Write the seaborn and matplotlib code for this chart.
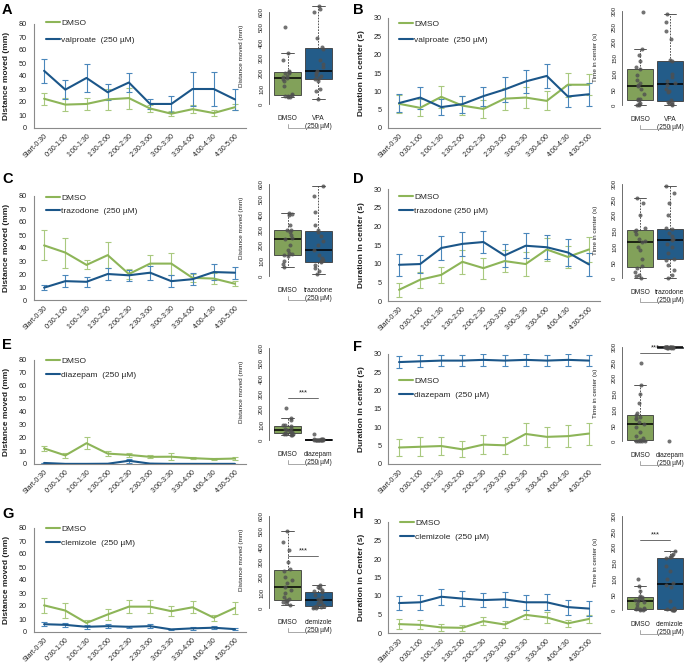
import numpy as np
import pandas as pd
import matplotlib
matplotlib.use("Agg")
import matplotlib.pyplot as plt
import matplotlib.transforms as mtransforms
from matplotlib.lines import Line2D
import seaborn as sns

sns.set_theme(style="white")
plt.rcParams['font.family'] = ['Liberation Sans', 'DejaVu Sans']

np.random.seed(3)

time_bins = ["Start-0:30", "0:30-1:00", "1:00-1:30", "1:30-2:00", "2:00-2:30",
             "2:30-3:00", "3:00-3:30", "3:30-4:00", "4:00-4:30", "4:30-5:00"]

# ---- Panel A (distance, valproate)
a_dmso_mean = [22.5, 18, 18.5, 22, 23, 15, 11, 14.5, 11.5, 16]
a_dmso_err = [4.5, 5, 4.5, 8, 8, 3, 2, 3, 2, 2.5]
a_drug_mean = [44, 29.5, 38.5, 27.5, 35, 18.5, 18.5, 30, 30, 22]
a_drug_err = [9, 7.5, 10.5, 6, 7, 4, 6, 13, 13, 8]
a_box_dmso = [45, 48, 50, 55, 58, 62, 120, 150, 160, 170, 175, 185, 200, 205, 210, 215, 285, 330, 500]
a_box_drug = [35, 85, 95, 150, 162, 170, 185, 190, 200, 215, 240, 260, 290, 360, 370, 430, 600, 620, 640]

# ---- Panel B (center, valproate)
b_dmso_mean = [6.6, 5.5, 8.5, 6.1, 5.2, 8.0, 8.3, 7.4, 11.8, 11.8]
b_dmso_err = [2.4, 2.3, 3.0, 2.5, 2.5, 3.0, 2.8, 2.6, 3.3, 2.8]
b_drug_mean = [6.8, 8.3, 5.7, 6.5, 8.7, 10.5, 12.7, 14.2, 8.6, 9.2]
b_drug_err = [2.4, 3.0, 2.2, 2.3, 2.6, 3.3, 3.2, 3.3, 3.0, 3.2]
b_box_dmso = [0, 0, 2, 5, 16, 18, 20, 35, 50, 60, 64, 70, 80, 95, 115, 120, 140, 160, 180, 297]
b_box_drug = [0, 3, 5, 10, 11, 15, 40, 45, 50, 65, 70, 75, 90, 100, 140, 145, 210, 235, 265, 289]

# ---- Panel C (distance, trazodone)
c_dmso_mean = [42, 36.5, 27, 34.5, 20, 28, 28, 17, 16.5, 12.5]
c_dmso_err = [11.5, 11.5, 3.5, 10, 3.5, 7, 8.5, 3, 4, 2]
c_drug_mean = [9.5, 14.5, 14, 20, 19, 21, 14.5, 16, 21.5, 21]
c_drug_err = [2, 4.5, 4, 4.5, 4, 5.5, 4.5, 4.5, 6, 4.5]
c_box_dmso = [60, 80, 100, 130, 138, 142, 150, 170, 200, 240, 250, 270, 290, 298, 302, 330, 395, 405, 410]
c_box_drug = [15, 30, 50, 70, 90, 96, 105, 120, 140, 170, 200, 230, 260, 290, 300, 330, 420, 520, 585]

# ---- Panel D (center, trazodone)
d_dmso_mean = [3.0, 5.7, 7.0, 10.5, 8.8, 10.7, 9.9, 13.8, 11.8, 13.8]
d_dmso_err = [1.8, 2.2, 2.2, 3.2, 2.8, 3.0, 3.1, 3.2, 3.0, 3.3]
d_drug_mean = [9.7, 9.9, 14.2, 15.3, 15.8, 12.2, 14.8, 14.4, 13.0, 9.8]
d_drug_err = [3.0, 2.5, 3.2, 3.2, 2.9, 3.2, 3.4, 3.2, 3.5, 3.0]
d_box_dmso = [0, 5, 10, 20, 32, 38, 60, 90, 100, 115, 118, 125, 140, 150, 154, 160, 200, 240, 255]
d_box_drug = [0, 10, 25, 40, 58, 62, 80, 100, 110, 120, 125, 135, 145, 155, 159, 200, 240, 270, 293]

# ---- Panel E (distance, diazepam)
e_dmso_mean = [12, 6.6, 16, 8, 7, 5.5, 5.6, 4.5, 3.8, 4.2]
e_dmso_err = [2.2, 2, 4.5, 2, 1.5, 1.2, 2.5, 1, 1, 1]
e_drug_mean = [0.8, 0.1, 0.1, 0.2, 2.5, 0.3, 0.1, 0.1, 0.1, 0.1]
e_drug_err = [0.3, 0.1, 0.1, 0.1, 1.5, 0.2, 0.1, 0.1, 0.1, 0.1]
e_box_dmso = [30, 35, 38, 40, 42, 45, 50, 55, 60, 64, 70, 80, 90, 95, 100, 130, 143, 211]
e_box_drug = [0, 0, 0, 0, 1, 1, 1, 2, 2, 3, 3, 4, 5, 6, 8, 38]

# ---- Panel F (center, diazepam)
f_dmso_mean = [4.5, 4.7, 4.9, 4.0, 5.3, 5.1, 8.2, 7.4, 7.6, 8.3]
f_dmso_err = [2.3, 2.6, 2.4, 2.2, 2.5, 2.4, 3.0, 2.8, 3.0, 3.0]
f_drug_mean = [27.8, 28.0, 28.2, 28.2, 28.4, 28.2, 28.4, 28.2, 28.4, 28.2]
f_drug_err = [1.6, 1.6, 1.6, 1.6, 1.6, 1.6, 1.6, 1.6, 1.6, 1.6]
f_box_dmso = [0, 0, 0, 0, 0, 2, 8, 15, 30, 45, 55, 60, 70, 75, 78, 82, 90, 120, 150, 180, 250]
f_box_drug = [0, 296, 297, 298, 298, 299, 299, 300, 300, 300, 300, 300, 300, 300, 300, 300]

# ---- Panel G (distance, clemizole)
g_dmso_mean = [20.5, 16.5, 7, 13.5, 19.5, 19.5, 16, 19, 11, 18.5]
g_dmso_err = [5.5, 5.5, 2.5, 4.2, 5, 5, 4, 4.7, 2.3, 4.5]
g_drug_mean = [6, 5.5, 4, 4.5, 4, 4.5, 2, 2.8, 3.3, 2.2]
g_drug_err = [1.5, 1.5, 1.5, 1.5, 1, 1.3, 0.5, 1, 1, 0.8]
g_box_dmso = [20, 30, 40, 45, 50, 56, 70, 95, 120, 140, 160, 180, 200, 240, 254, 300, 380, 430, 500]
g_box_drug = [0, 2, 5, 8, 12, 14, 20, 30, 40, 53, 60, 70, 85, 105, 109, 120, 130, 140, 150]

# ---- Panel H (center, clemizole)
h_dmso_mean = [2.4, 2.2, 1.5, 1.4, 3.2, 2.3, 4.9, 4.2, 2.6, 3.8]
h_dmso_err = [1.3, 1.2, 0.9, 0.8, 1.0, 0.9, 1.2, 1.4, 1.0, 1.2]
h_drug_mean = [8.1, 8.3, 9.8, 9.3, 8.9, 9.1, 8.3, 8.3, 7.0, 6.6]
h_drug_err = [2.0, 2.0, 2.2, 2.1, 2.0, 2.0, 2.0, 2.2, 2.0, 2.0]
h_box_dmso = [0, 1, 2, 3, 4, 5, 10, 18, 26, 30, 32, 35, 38, 42, 45, 60, 78, 100]
h_box_drug = [0, 0, 1, 1, 2, 3, 5, 30, 75, 80, 86, 100, 125, 140, 165, 168, 170, 175, 180, 187]

GREEN = '#8db558'
BLUE = '#1b5689'
GREEN_E = '#a9c97f'
BLUE_E = '#4a87bb'
BOX_G = '#83ad4e'
BOX_B = '#125e9a'
AX_COL = '#8a8a8a'
TXT = '#222222'

W, H = 688, 666
fig = plt.figure(figsize=(W / 100, H / 100), dpi=100)


def add_ax(x0, y0, x1, y1):
    return fig.add_axes([x0 / W, 1 - y1 / H, (x1 - x0) / W, (y1 - y0) / H])


def line_panel(ax, dm, de, tm, te, drug_label, ylabel, ymax, ystep, leg):
    x = np.arange(len(time_bins))
    df = pd.DataFrame({'bin': np.concatenate([x, x]),
                       'value': list(dm) + list(tm),
                       'group': ['DMSO'] * len(dm) + [drug_label] * len(tm)})
    ax.errorbar(x, dm, yerr=de, fmt='none', ecolor=GREEN_E, elinewidth=0.8,
                capsize=2.2, capthick=0.8, zorder=1)
    ax.errorbar(x, tm, yerr=te, fmt='none', ecolor=BLUE_E, elinewidth=0.8,
                capsize=2.2, capthick=0.8, zorder=1)
    sns.lineplot(data=df, x='bin', y='value', hue='group', palette=[GREEN, BLUE],
                 linewidth=1.5, ax=ax, legend=False, sort=False, zorder=3)
    ax.set_xlim(-0.5, len(time_bins) - 0.5)
    ax.set_ylim(0, ymax)
    ax.set_yticks(np.arange(0, ymax + 0.1, ystep))
    ax.set_xticks(x)
    ax.set_xticklabels(time_bins, rotation=45, ha='right', rotation_mode='anchor',
                       fontsize=5, color=TXT)
    ax.set_xticks(np.arange(-0.5, len(time_bins)), minor=True)
    ax.tick_params(axis='x', which='major', length=0, pad=3)
    ax.tick_params(axis='x', which='minor', length=3, color=AX_COL, width=0.7)
    ax.tick_params(axis='y', length=3, color=AX_COL, width=0.7, labelsize=5.2,
                   labelcolor=TXT, pad=2)
    for s in ['top', 'right']:
        ax.spines[s].set_visible(False)
    for s in ['left', 'bottom']:
        ax.spines[s].set_color(AX_COL)
        ax.spines[s].set_linewidth(0.8)
    ax.set_xlabel('')
    ax.set_ylabel(ylabel, fontsize=6, fontweight='bold', color=TXT)
    ax.yaxis.set_label_coords(-0.111, 0.5)
    hx, hy, ls = leg
    handles = [Line2D([], [], color=GREEN, lw=1.5), Line2D([], [], color=BLUE, lw=1.5)]
    ax.legend(handles, ['DMSO', drug_label], loc='upper left', frameon=False,
              fontsize=6, handlelength=1.7, handletextpad=0.15, labelspacing=ls,
              borderpad=0, borderaxespad=0,
              bbox_to_anchor=(hx / 100, (H - hy + 4.5) / 100),
              bbox_transform=fig.dpi_scale_trans)


def box_panel(ax, dvals, tvals, tlabel, ylabel, ymax, ystep, ylo, yhi, sig=None):
    df = pd.DataFrame({'group': ['DMSO'] * len(dvals) + [tlabel] * len(tvals),
                       'value': list(dvals) + list(tvals)})
    sns.boxplot(data=df, x='group', y='value', hue='group', palette=[BOX_G, BOX_B],
                width=0.85, showfliers=False, ax=ax, legend=False, linecolor='#3a3a3a',
                linewidth=0.6, whiskerprops=dict(linestyle=(0, (2, 1.5))),
                medianprops=dict(color='black', linewidth=1.1))
    sns.stripplot(data=df, x='group', y='value', color='#505050', size=2.9,
                  jitter=0.17, alpha=0.8, ax=ax, zorder=5)
    ax.set_xlim(-0.6, 1.6)
    ax.set_ylim(ylo, yhi)
    ax.set_yticks(np.arange(0, ymax + 0.1, ystep))
    ax.spines['left'].set_bounds(0, ymax)
    for s in ['top', 'right', 'bottom']:
        ax.spines[s].set_visible(False)
    ax.spines['left'].set_color('#555555')
    ax.spines['left'].set_linewidth(0.6)
    ax.tick_params(axis='y', length=2, width=0.6, color='#555555', labelsize=4.3,
                   labelcolor=TXT, pad=1.5, labelrotation=90)
    for lab in ax.get_yticklabels():
        lab.set_va('center')
    ax.tick_params(axis='x', length=0, labelsize=4.8, labelcolor=TXT, pad=5)
    ax.set_xlabel('')
    ax.set_ylabel(ylabel, fontsize=4.6, color=TXT)
    ax.yaxis.set_label_coords(-0.37, 0.5)
    trans = mtransforms.blended_transform_factory(ax.transData, ax.transAxes)
    ax.plot([0, 0, 1, 1], [-0.16, -0.195, -0.195, -0.16], transform=trans,
            color='#9a9a9a', lw=0.6, clip_on=False)
    if sig is not None:
        ax.plot([0, 1], [sig, sig], color='#555555', lw=0.6)
        ax.text(0.5, sig + (yhi - ylo) * 0.01, '***', ha='center', va='bottom',
                fontsize=5.5, color=TXT)


DIST = 'Distance moved (mm)'
CENT = 'Duration in center (s)'

panels = [
    ('A', 0, 24, 128, a_dmso_mean, a_dmso_err, a_drug_mean, a_drug_err,
     'valproate  (250 µM)', 'VPA\n(250 µM)', DIST, (46, 24, 1.0), a_box_dmso, a_box_drug, None, 3),
    ('B', 1, 18, 128, b_dmso_mean, b_dmso_err, b_drug_mean, b_drug_err,
     'valproate  (250 µM)', 'VPA\n(250 µM)', CENT, (399, 24.3, 1.0), b_box_dmso, b_box_drug, None, 3),
    ('C', 0, 196, 300, c_dmso_mean, c_dmso_err, c_drug_mean, c_drug_err,
     'trazodone  (250 µM)', 'trazodone\n(250 µM)', DIST, (46, 198.3, 0.62), c_box_dmso, c_box_drug, None, 172),
    ('D', 1, 189, 301, d_dmso_mean, d_dmso_err, d_drug_mean, d_drug_err,
     'trazodone (250 µM)', 'trazodone\n(250 µM)', CENT, (399, 197.3, 0.82), d_box_dmso, d_box_drug, None, 172),
    ('E', 0, 360, 464, e_dmso_mean, e_dmso_err, e_drug_mean, e_drug_err,
     'diazepam  (250 µM)', 'diazepam\n(250 µM)', DIST, (46, 361.7, 0.78), e_box_dmso, e_box_drug, 275, 338),
    ('F', 1, 354, 464, f_dmso_mean, f_dmso_err, f_drug_mean, f_drug_err,
     'diazepam  (250 µM)', 'diazepam\n(250 µM)', CENT, (399, 381.7, 0.75), f_box_dmso, f_box_drug, 282, 340),
    ('G', 0, 528, 632, g_dmso_mean, g_dmso_err, g_drug_mean, g_drug_err,
     'clemizole  (250 µM)', 'clemizole\n(250 µM)', DIST, (46, 529.3, 0.78), g_box_dmso, g_box_drug, 342, 507),
    ('H', 1, 522, 633, h_dmso_mean, h_dmso_err, h_drug_mean, h_drug_err,
     'clemizole  (250 µM)', 'clemizole\n(250 µM)', 'Duration in Center (s)', (400, 524, 0.72), h_box_dmso, h_box_drug, 224, 507),
]

for (letter, col, top, bot, dm, de, tm, te, dlab, blab, ylab, leg,
     bd, bt, sig, ly) in panels:
    if col == 0:
        ax = add_ax(33.5, top, 245.5, bot)
        line_panel(ax, dm, de, tm, te, dlab, ylab, 80, 10, leg)
        ib = bot - 24 + 25 * (92 / 600)
        it = bot - 116 - 50 * (92 / 600)
        iax = add_ax(269, it, 337, ib)
        box_panel(iax, bd, bt, blab, 'Distance moved (mm)', 600, 100, -25, 650, sig)
        fig.text(2 / W, 1 - ly / H, letter, fontsize=10.5, fontweight='bold',
                 va='top', ha='left', color='black')
    else:
        ax = add_ax(388.5, top, 599.5, bot)
        line_panel(ax, dm, de, tm, te, dlab, ylab, 30, 5, leg)
        ib = bot - 23 + 12 * (94 / 300)
        it = bot - 117 - 15 * (94 / 300)
        iax = add_ax(622, it, 688, ib)
        box_panel(iax, bd, bt, blab, 'Time in center (s)', 300, 50, -12, 315, sig)
        fig.text(353 / W, 1 - ly / H, letter, fontsize=10.5, fontweight='bold',
                 va='top', ha='left', color='black')

fig.savefig('out.png', dpi=100)
